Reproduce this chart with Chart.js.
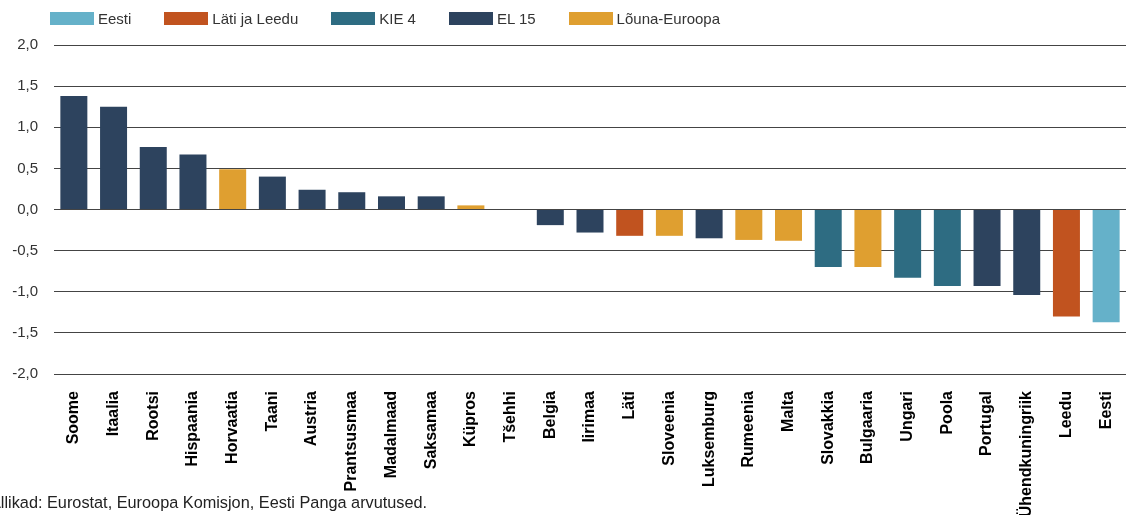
<!DOCTYPE html>
<html lang="et">
<head>
<meta charset="utf-8">
<title>Muutus riigiti</title>
<script src="https://cdn.jsdelivr.net/npm/chart.js@4.4.1/dist/chart.umd.min.js"></script>
<style>
    body { margin: 0; background: #fff; font-family: "Liberation Sans", Arial, sans-serif; }
    #wrap { position: relative; width: 1130px; height: 515px; overflow: hidden; }
    #legend { position: absolute; left: 50px; top: 10px; display: flex; align-items: center; font-size: 15px; color: #333; }
    .item { display: flex; align-items: center; margin-right: 33px; }
    .swatch { width: 44px; height: 13px; margin-right: 4px; }
    #source { position: absolute; left: -10px; top: 494px; font-size: 16.3px; line-height: 16px; color: #222; white-space: nowrap; }
</style>
</head>
<body>
<div id="wrap">
    <canvas id="chart" width="1130" height="515"></canvas>
    <div id="legend"></div>
    <div id="source">Allikad: Eurostat, Euroopa Komisjon, Eesti Panga arvutused.</div>
</div>
<script>
const categories = ['Soome', 'Itaalia', 'Rootsi', 'Hispaania', 'Horvaatia', 'Taani', 'Austria',
    'Prantsusmaa', 'Madalmaad', 'Saksamaa', 'Küpros', 'Tšehhi', 'Belgia', 'Iirimaa', 'Läti',
    'Sloveenia', 'Luksemburg', 'Rumeenia', 'Malta', 'Slovakkia', 'Bulgaaria', 'Ungari', 'Poola',
    'Portugal', 'Ühendkuningriik', 'Leedu', 'Eesti'];

const values = [1.38, 1.25, 0.76, 0.67, 0.49, 0.40, 0.24, 0.21, 0.16, 0.16, 0.05, 0.00, -0.19,
    -0.28, -0.32, -0.32, -0.35, -0.37, -0.38, -0.70, -0.70, -0.83, -0.93, -0.93, -1.04, -1.30, -1.37];

// group of each country, same order as categories
const groups = ['EL 15', 'EL 15', 'EL 15', 'EL 15', 'Lõuna-Euroopa', 'EL 15', 'EL 15',
    'EL 15', 'EL 15', 'EL 15', 'Lõuna-Euroopa', 'KIE 4', 'EL 15', 'EL 15', 'Läti ja Leedu',
    'Lõuna-Euroopa', 'EL 15', 'Lõuna-Euroopa', 'Lõuna-Euroopa', 'KIE 4', 'Lõuna-Euroopa', 'KIE 4', 'KIE 4',
    'EL 15', 'EL 15', 'Läti ja Leedu', 'Eesti'];

const groupNames = ['Eesti', 'Läti ja Leedu', 'KIE 4', 'EL 15', 'Lõuna-Euroopa'];
const groupColors = ['#65b1c9', '#c1531f', '#2e6c82', '#2d435e', '#df9f30'];

const yTicks = [-2, -1.5, -1, -0.5, 0, 0.5, 1, 1.5, 2];

// legend as plain html
const legendEl = document.getElementById('legend');
groupNames.forEach((name, i) => {
    const item = document.createElement('div');
    item.className = 'item';
    const sw = document.createElement('span');
    sw.className = 'swatch';
    sw.style.background = groupColors[i];
    const txt = document.createElement('span');
    txt.textContent = name;
    item.appendChild(sw);
    item.appendChild(txt);
    legendEl.appendChild(item);
});

const datasets = groupNames.map((name, i) => ({
    label: name,
    data: values.map((v, j) => groups[j] === name ? v : null),
    backgroundColor: groupColors[i],
    barPercentage: 0.68,
    categoryPercentage: 1,
    grouped: false
}));

new Chart(document.getElementById('chart'), {
    type: 'bar',
    data: { labels: categories, datasets: datasets },
    options: {
        responsive: false,
        animation: false,
        layout: { padding: { top: 45, right: 4, bottom: 0, left: 10 } },
        plugins: {
            legend: { display: false },
            tooltip: { enabled: false }
        },
        scales: {
            x: {
                grid: { display: false, drawTicks: false },
                border: { display: false },
                ticks: {
                    autoSkip: false,
                    maxRotation: 90,
                    minRotation: 90,
                    padding: 17,
                    color: '#000',
                    font: { family: '"Liberation Sans", Arial, sans-serif', size: 16, weight: 'bold' }
                },
                afterFit: scale => {
                    scale.height = 141;
                    scale.paddingLeft = 0;
                    scale.paddingRight = 0;
                }
            },
            y: {
                min: -2,
                max: 2,
                afterBuildTicks: scale => { scale.ticks = yTicks.map(v => ({ value: v })); },
                grid: { color: '#444', lineWidth: 1, drawTicks: false },
                border: { display: false },
                ticks: {
                    padding: 16,
                    color: '#333',
                    font: { family: '"Liberation Sans", Arial, sans-serif', size: 15 },
                    callback: value => value.toFixed(1).replace('.', ',')
                },
                afterFit: scale => { scale.width = 44; }
            }
        }
    }
});
</script>
</body>
</html>
